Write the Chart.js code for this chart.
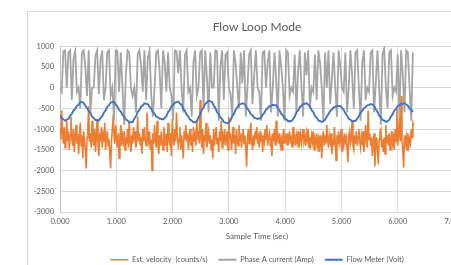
<!DOCTYPE html>
<html><head><meta charset="utf-8">
<script src="https://cdn.jsdelivr.net/npm/chart.js@4"></script>
<style>
html,body{margin:0;padding:0;width:451px;height:265px;overflow:hidden;background:#fff;}
#frame{position:absolute;left:27px;top:11px;width:500px;height:300px;border:1px solid #d9d9d9;box-sizing:border-box;}
#wrap{position:absolute;left:0;top:0;width:480px;height:274px;}
</style></head>
<body>
<div id="frame"></div>
<div id="wrap"><canvas id="c" width="480" height="274"></canvas></div>
<script>
const TITLE = 'Flow Loop Mode';
const X_TITLE = 'Sample Time (sec)';
const SERIES_NAMES = ['Est. velocity  (counts/s)', 'Phase A current (Amp)', 'Flow Meter (Volt)'];
const VELOCITY_STEP = 0.015; // seconds between velocity samples
const SIGNAL_STEP = 0.03;    // seconds between current / flow samples
const Y_TICKS = [-3000, -2500, -2000, -1500, -1000, -500, 0, 500, 1000];
const X_TICKS = [0, 1, 2, 3, 4, 5, 6, 7];

const velocity = [
 -1000,-1250,-550,-1100,-1350,-950,-1450,-1200,-800,-1300,
 -1050,-1500,-1150,-700,-1250,-1400,-1000,-1550,-1200,-900,
 -1350,-1100,-1600,-1250,-850,-1400,-1150,-1700,-1050,-1300,
 -1500,-1950,-1200,-950,-450,-1300,-1100,-1450,-800,-1250,
 -1400,-1000,-1550,-1200,-750,-1350,-1650,-1100,-1300,-950,
 -1450,-1150,-1300,-850,-1500,-1200,-1050,-1400,-1250,-1600,
 -1950,-1300,-1000,-650,-1150,-1350,-900,-1250,-1450,-1100,
 -1700,-1250,-900,-1400,-1150,-1300,-1050,-1500,-1200,-1350,
 -1000,-1450,-800,-1250,-1550,-1150,-1350,-950,-1200,-1050,
 -1450,-1250,-700,-1300,-1100,-1400,-1200,-1600,-1000,-1300,
 -950,-1250,-1400,-600,-1150,-1300,-1050,-1500,-1250,-2000,
 -1100,-1350,-900,-1250,-1450,-800,-1300,-1600,-1150,-1400,
 -1050,-1300,-1500,-950,-1200,-1400,-1100,-1550,-850,-1250,
 -1350,-1100,-1650,-750,-1200,-1400,-1000,-1300,-600,-1150,
 -1400,-1250,-950,-1500,-1150,-1350,-1700,-1050,-1250,-900,
 -1300,-1100,-1500,-1200,-1000,-1400,-1150,-1550,-950,-1300,
 -1150,-1400,-800,-1250,-1050,-1350,-300,-1200,-1450,-1000,
 -1600,-1150,-1300,-850,-1450,-1200,-1050,-1350,-1150,-1500,
 -1250,-1700,-1000,-1400,-1150,-950,-1350,-1200,-1550,-1050,
 -1300,-800,-1450,-1150,-1250,-1000,-1400,-1200,-1050,-1500,
 -700,-1250,-1100,-1500,-1300,-950,-1350,-1150,-1600,-1000,
 -1250,-1400,-900,-1300,-1100,-1450,-1200,-1000,-1350,-1150,
 -1450,-1900,-1250,-1000,-1350,-1100,-850,-1300,-1500,-1150,
 -1400,-1050,-1250,-950,-1350,-1200,-1450,-1050,-1300,-1150,
 -1550,-1150,-1300,-1000,-1250,-900,-1400,-1200,-1100,-1350,
 -1250,-1650,-1100,-1300,-1000,-1400,-800,-1250,-1150,-1350,
 -1100,-1400,-1250,-1500,-1150,-1000,-1350,-1200,-1300,-1100,
 -1400,-1250,-1050,-1350,-1150,-1450,-950,-1300,-1200,-1400,
 -1150,-1300,-1050,-1450,-1250,-1100,-1350,-1200,-1000,-1300,
 -1200,-1400,-1100,-1250,-1000,-1450,-1200,-1350,-1150,-1300,
 -1050,-1500,-1250,-1350,-1100,-1400,-1250,-1550,-1150,-1300,
 -1700,-1200,-1050,-1400,-1150,-1350,-900,-1250,-1450,-1150,
 -1300,-1100,-1600,-1250,-1400,-950,-1300,-1750,-1150,-1350,
 -1050,-1450,-1200,-1000,-1550,-1250,-1400,-1100,-1300,-1200,
 -1450,-1800,-1150,-1050,-1350,-1250,-800,-1400,-1500,-1150,
 -1350,-1050,-1400,-1200,-1000,-1300,-1450,-1150,-1300,-1050,
 -1550,-1200,-900,-1300,-1450,-550,-1250,-1100,-1400,-1200,
 -1650,-1300,-1100,-1900,-1400,-1200,-1500,-1850,-1250,-1050,
 -1000,-1450,-1250,-1550,-1200,-1600,-900,-1350,-1150,-1400,
 -1100,-1500,-1250,-1050,-1350,-1200,-1500,-1000,-1300,-500,
 -1400,-1150,-700,-1300,-200,-1250,-1500,-1930,-1150,-1350,
 -1200,-1500,-1100,-1400,-1250,-1350,-1000,-1200,-850,-900
];
const current = [
 0,-100,880,900,0,850,900,-300,700,880,
 -100,0,-500,850,900,500,-200,900,-600,0,
 0,780,900,-150,650,900,-300,0,850,900,
 -200,0,-800,900,880,-100,850,0,-900,300,
 900,850,0,-200,0,-600,800,900,550,-100,
 900,-300,700,900,-150,-700,0,850,900,400,
 -500,900,600,-100,850,0,-200,-800,900,880,
 350,900,0,-600,800,900,-100,0,-700,600,
 900,-200,0,850,900,-500,900,250,-600,850,
 0,0,900,880,-800,500,900,-300,800,850,
 0,-150,-700,900,600,0,-500,850,100,900,
 -700,0,800,900,-400,300,900,0,-100,-800,
 850,880,0,600,900,-600,0,850,200,-700,
 900,500,0,-800,900,850,-200,0,-100,800,
 -600,400,900,0,-700,850,300,900,-500,0,
 -100,800,-300,900,600,0,-800,850,0,900,
 -400,200,850,0,-700,900,500,0,-100,850,
 -600,0,900,300,-500,850,900,0,-800,600,
 900,-300,0,-100,850,900,-600,100,900,0,
 -900,800,950,0,-500,850,900,-200,0,-100,
 800,-700,900,300,-600,900,850,0,-800,850
];
const flow = [
 -660,-735,-760,-800,-770,-755,-680,-630,-550,-510,
 -440,-410,-350,-345,-365,-440,-490,-570,-610,-700,
 -735,-780,-785,-790,-730,-690,-600,-550,-460,-420,
 -360,-350,-340,-410,-450,-540,-580,-660,-700,-770,
 -790,-840,-835,-830,-750,-690,-590,-540,-460,-430,
 -380,-390,-395,-460,-510,-590,-630,-700,-715,-750,
 -750,-765,-735,-690,-590,-540,-450,-420,-365,-350,
 -335,-380,-420,-510,-560,-650,-690,-770,-795,-835,
 -835,-815,-720,-650,-540,-480,-390,-360,-320,-325,
 -345,-430,-490,-590,-640,-720,-760,-830,-845,-865,
 -835,-790,-690,-630,-530,-480,-410,-400,-375,-390,
 -425,-510,-560,-640,-670,-730,-735,-755,-745,-725,
 -655,-610,-530,-500,-445,-440,-415,-425,-425,-490,
 -545,-630,-670,-740,-765,-810,-805,-810,-755,-700,
 -600,-550,-470,-440,-395,-390,-375,-410,-455,-540,
 -590,-680,-720,-790,-805,-825,-810,-775,-695,-640,
 -560,-530,-475,-465,-440,-445,-440,-490,-535,-620,
 -670,-750,-775,-810,-805,-805,-745,-690,-600,-560,
 -495,-465,-425,-415,-395,-410,-435,-520,-585,-670,
 -715,-780,-795,-825,-810,-775,-695,-640,-555,-510,
 -445,-425,-395,-390,-375,-405,-435,-500,-535,-585
];

const toPoints = (arr, step) => arr.map((v, i) => ({x: i * step, y: v}));
const FONT = 'Lato, "Open Sans", sans-serif';
const GREY_TXT = '#595959';

new Chart(document.getElementById('c'), {
  type: 'line',
  data: {
    datasets: [
      {label: SERIES_NAMES[0], data: toPoints(velocity, VELOCITY_STEP), borderColor: '#ED7D31', backgroundColor: '#ED7D31', borderWidth: 1.6, pointRadius: 0, tension: 0, order: 2},
      {label: SERIES_NAMES[1], data: toPoints(current, SIGNAL_STEP), borderColor: '#A5A5A5', backgroundColor: '#A5A5A5', borderWidth: 1.8, pointRadius: 0, tension: 0, order: 1},
      {label: SERIES_NAMES[2], data: toPoints(flow, SIGNAL_STEP), borderColor: '#4472C4', backgroundColor: '#4472C4', borderWidth: 1.9, pointRadius: 0, tension: 0, order: 0}
    ]
  },
  options: {
    responsive: false,
    animation: false,
    events: [],
    layout: {padding: {left: 27, right: 26, top: 14, bottom: 0.5}},
    plugins: {
      title: {display: true, text: TITLE, fullSize: false, color: GREY_TXT,
        font: {family: FONT, size: 12, weight: 'normal'}, padding: {top: 6, bottom: 11.8}},
      legend: {position: 'bottom', fullSize: false,
        labels: {usePointStyle: true, pointStyle: 'line', pointStyleWidth: 18, padding: 11,
          color: GREY_TXT, font: {family: FONT, size: 7.5},
          sort: (a, b) => a.datasetIndex - b.datasetIndex}},
      tooltip: {enabled: false}
    },
    scales: {
      x: {type: 'linear', min: X_TICKS[0], max: X_TICKS[X_TICKS.length - 1],
        afterBuildTicks: s => { s.ticks = X_TICKS.map(v => ({value: v})); },
        afterFit: s => { s.height = 33; },
        ticks: {color: GREY_TXT, font: {family: FONT, size: 7.5}, padding: 5, maxRotation: 0,
          callback: v => Number(v).toFixed(3)},
        grid: {color: '#d9d9d9', drawTicks: false},
        border: {color: '#d9d9d9'},
        title: {display: true, text: X_TITLE, color: GREY_TXT, font: {family: FONT, size: 8}}
      },
      y: {min: Y_TICKS[0], max: Y_TICKS[Y_TICKS.length - 1],
        afterBuildTicks: s => { s.ticks = Y_TICKS.map(v => ({value: v})); },
        afterFit: s => { s.width = 33; },
        ticks: {color: GREY_TXT, font: {family: FONT, size: 7.5}, padding: 6,
          callback: v => String(v)},
        grid: {color: '#d9d9d9', drawTicks: false},
        border: {color: '#bfbfbf'}
      }
    }
  }
});
</script>
</body></html>
